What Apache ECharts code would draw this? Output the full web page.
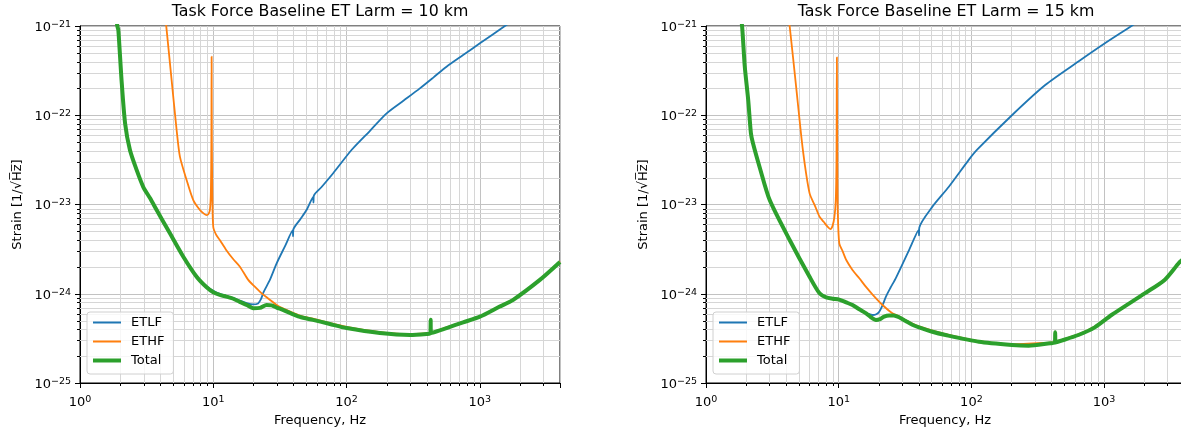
<!DOCTYPE html>
<html><head><meta charset="utf-8">
<script src="https://cdn.jsdelivr.net/npm/echarts@6/dist/echarts.min.js"></script>
<style>html,body{margin:0;padding:0;overflow:hidden;background:#fff}#c{width:1187px;height:435px}</style>
</head><body><div id="c"></div><script>
// ---------- data ----------
const titles = ['Task Force Baseline ET Larm = 10 km', 'Task Force Baseline ET Larm = 15 km'];
const seriesNames = ['ETLF', 'ETHF', 'Total'];

// 10 km
const freqLF10 = [1.85, 1.905, 1.94, 2.05, 2.18, 2.37, 2.66, 2.98, 3.35, 3.76, 4.73, 5.96, 7.5, 8.92, 10, 11.2, 12.5, 14, 15.8, 17.8, 19.9, 21.7, 22.8, 23.9, 26.6, 29.9, 34.5, 39.5, 39.7, 39.9, 45, 50.1, 56.2, 56.5, 56.8, 65, 79.4, 109, 150, 200, 270, 355, 450, 563, 750, 1002, 1543, 2000];
const strainLF10 = [1.5e-21, 1.0e-21, 9.0e-22, 2.48e-22, 8.1e-23, 4.08e-23, 2.44e-23, 1.58e-23, 1.18e-23, 8.67e-24, 4.75e-24, 2.6e-24, 1.56e-24, 1.21e-24, 1.08e-24, 9.95e-25, 9.5e-25, 9.0e-25, 8.4e-25, 7.87e-25, 7.6e-25, 7.8e-25, 8.7e-25, 1.05e-24, 1.43e-24, 2.19e-24, 3.4e-24, 5.15e-24, 4.4e-24, 5.25e-24, 6.84e-24, 8.67e-24, 1.22e-23, 1.05e-23, 1.25e-23, 1.57e-23, 2.24e-23, 4.08e-23, 6.7e-23, 1.05e-22, 1.47e-22, 2.0e-22, 2.66e-22, 3.5e-22, 4.73e-22, 6.4e-22, 1.0e-21, 1.3e-21];

const freqHF10 = [4.2, 4.47, 4.87, 5.31, 5.62, 6.31, 7.08, 7.94, 8.5, 8.92, 9.2, 9.44, 9.6, 9.68, 9.72, 9.76, 9.85, 10.0, 10.5, 11.2, 12.5, 14.1, 15.85, 18.3, 20.5, 23.1, 26, 29.9, 33.3, 44.7, 56, 75, 100, 178, 299, 399, 426, 428, 430, 563, 750, 1002, 1400, 1770, 2825, 4000];
const strainHF10 = [2.2e-21, 9.0e-22, 2.48e-22, 6.84e-23, 3.44e-23, 1.88e-23, 1.12e-23, 8.67e-24, 7.9e-24, 7.6e-24, 7.8e-24, 8.7e-24, 1.4e-23, 5e-23, 4.53e-22, 5e-23, 1.2e-23, 5.6e-24, 4.6e-24, 4.0e-24, 3.1e-24, 2.45e-24, 2.01e-24, 1.43e-24, 1.2e-24, 1.01e-24, 8.8e-25, 7.48e-25, 6.85e-25, 5.7e-25, 5.25e-25, 4.7e-25, 4.25e-25, 3.72e-25, 3.53e-25, 3.6e-25, 3.65e-25, 5.15e-25, 3.67e-25, 4.2e-25, 4.85e-25, 5.6e-25, 7.2e-25, 8.6e-25, 1.44e-24, 2.3e-24];

const freqTot10 = [1.85, 1.905, 1.94, 2.05, 2.18, 2.37, 2.66, 2.98, 3.35, 3.76, 4.73, 5.96, 7.5, 8.92, 10, 11.2, 12.5, 14, 15.8, 17.8, 19.9, 22.4, 25.1, 27.5, 29.9, 33.3, 44.7, 56, 75, 100, 178, 299, 399, 426, 428, 430, 563, 750, 1002, 1400, 1770, 2825, 4000];
const strainTot10 = [1.5e-21, 1.0e-21, 9.0e-22, 2.48e-22, 8.1e-23, 4.08e-23, 2.44e-23, 1.58e-23, 1.18e-23, 8.67e-24, 4.75e-24, 2.6e-24, 1.55e-24, 1.18e-24, 1.04e-24, 9.7e-25, 9.3e-25, 8.85e-25, 8.1e-25, 7.5e-25, 6.9e-25, 6.95e-25, 7.5e-25, 7.4e-25, 7.0e-25, 6.6e-25, 5.5e-25, 5.1e-25, 4.58e-25, 4.13e-25, 3.63e-25, 3.45e-25, 3.54e-25, 3.6e-25, 5.1e-25, 3.62e-25, 4.13e-25, 4.78e-25, 5.53e-25, 7.14e-25, 8.5e-25, 1.43e-24, 2.27e-24];

// 15 km
const freqLF15 = [1.8, 1.87, 1.96, 2.08, 2.18, 2.26, 2.54, 3.02, 4.27, 6.03, 7.17, 8.04, 9.0, 10.1, 11.4, 12.7, 15.1, 16.5, 18.0, 19.2, 20.2, 21.3, 22.7, 24.5, 27.0, 33.9, 40.1, 40.3, 40.5, 50.7, 67.6, 95.5, 110, 202, 360, 640, 1014, 1607, 2000];
const strainLF15 = [1.5e-21, 1.0e-21, 3.5e-22, 1.48e-22, 6.3e-23, 4.85e-23, 2.6e-23, 1.12e-23, 4.0e-24, 1.55e-24, 1.02e-24, 9.2e-25, 8.9e-25, 8.7e-25, 8.0e-25, 7.6e-25, 6.3e-25, 6.0e-25, 5.78e-25, 5.9e-25, 6.3e-25, 7.3e-25, 9.3e-25, 1.16e-24, 1.51e-24, 3.09e-24, 5.2e-24, 4.5e-24, 5.5e-24, 9.4e-24, 1.58e-23, 3.16e-23, 4.08e-23, 1.0e-22, 2.18e-22, 4.0e-22, 6.4e-22, 1.0e-21, 1.25e-21];

const freqHF15 = [4.1, 4.27, 4.8, 5.37, 6.03, 6.6, 7.17, 7.7, 8.27, 8.66, 9.0, 9.29, 9.5, 9.62, 9.69, 9.76, 9.85, 10.1, 10.7, 11.4, 12.7, 14.3, 16, 18.0, 21.4, 25.4, 28.5, 32, 40.3, 63.9, 114, 202, 392, 426, 428, 430, 640, 850, 1137, 2023, 2858, 4000];
const strainHF15 = [1.6e-21, 1.0e-21, 1.95e-22, 4.1e-23, 1.34e-23, 9.8e-24, 7.3e-24, 6.4e-24, 5.6e-24, 5.3e-24, 5.8e-24, 7.3e-24, 1.1e-23, 3e-23, 4.46e-22, 3e-23, 8e-24, 3.67e-24, 3.0e-24, 2.39e-24, 1.85e-24, 1.49e-24, 1.2e-24, 9.8e-25, 7.48e-25, 6.04e-25, 5.6e-25, 5.05e-25, 4.3e-25, 3.52e-25, 2.95e-25, 2.72e-25, 2.84e-25, 2.88e-25, 3.75e-25, 2.9e-25, 3.5e-25, 4.28e-25, 5.85e-25, 1.02e-24, 1.45e-24, 2.52e-24];

const freqTot15 = [1.8, 1.87, 1.96, 2.08, 2.18, 2.26, 2.54, 3.02, 4.27, 6.03, 7.17, 8.04, 9.0, 10.1, 11.4, 12.7, 14.3, 16.1, 17.5, 19.1, 20.5, 22, 24, 26, 28.5, 32, 35.9, 40.3, 50, 63.9, 114, 202, 270, 392, 426, 428, 430, 640, 850, 1137, 2023, 2858, 3658, 4000];
const strainTot15 = [1.5e-21, 1.0e-21, 3.5e-22, 1.48e-22, 6.3e-23, 4.85e-23, 2.6e-23, 1.12e-23, 4.0e-24, 1.55e-24, 1.01e-24, 9.1e-25, 8.8e-25, 8.6e-25, 8.0e-25, 7.48e-25, 6.7e-25, 6.04e-25, 5.45e-25, 5.08e-25, 5.2e-25, 5.55e-25, 5.7e-25, 5.7e-25, 5.45e-25, 4.95e-25, 4.5e-25, 4.2e-25, 3.78e-25, 3.45e-25, 2.9e-25, 2.67e-25, 2.62e-25, 2.79e-25, 2.83e-25, 3.7e-25, 2.85e-25, 3.45e-25, 4.2e-25, 5.78e-25, 1.01e-24, 1.43e-24, 2.21e-24, 2.5e-24];

// axis ranges and tick positions
const freqRange = [1, 4000];
const strainDecades = [-25, -21];   // strain axis shown in powers of ten (log10 of strain)
const minorFreqTicks = [2, 3, 4, 5, 6, 7, 8, 9, 20, 30, 40, 50, 60, 70, 80, 90, 200, 300, 400, 500, 600, 700, 800, 900, 2000, 3000];
const minorStrainTicks = [2e-25, 3e-25, 4e-25, 5e-25, 6e-25, 7e-25, 8e-25, 9e-25, 2e-24, 3e-24, 4e-24, 5e-24, 6e-24, 7e-24, 8e-24, 9e-24, 2e-23, 3e-23, 4e-23, 5e-23, 6e-23, 7e-23, 8e-23, 9e-23, 2e-22, 3e-22, 4e-22, 5e-22, 6e-22, 7e-22, 8e-22, 9e-22];

// ---------- chart ----------
const FONT = 'DejaVu Sans';
const C_LF = '#1f77b4', C_HF = '#ff7f0e', C_TOT = '#2ca02c';
const GRID_MAJOR = '#c2c2c2', GRID_MINOR = '#d6d6d6';
const grids = [
  {left: 80, top: 26, width: 480, height: 357, show: true, borderColor: '#000', borderWidth: 1},
  {left: 706, top: 26, width: 480, height: 357, show: true, borderColor: '#000', borderWidth: 1}
];

function supLabel(exp) {
  return '{b|10}{s|' + (exp < 0 ? '\u2212' + (-exp) : String(exp)) + '}';
}
function xLabel(v) {
  if (!(v > 0)) return '';
  const e = Math.log10(v), r = Math.round(e);
  if (Math.abs(e - r) > 1e-6) return '';
  return supLabel(r);
}
function yLabel(v) {
  const r = Math.round(v);
  if (Math.abs(v - r) > 1e-6) return '';
  return supLabel(r);
}
const rich = {
  b: {fontSize: 13, lineHeight: 13, padding: [3, 0, 0, 0], fontFamily: FONT, color: '#000'},
  s: {fontSize: 9.5, lineHeight: 10, verticalAlign: 'top', fontFamily: FONT, color: '#000'}
};

function xAxis(gi) {
  return {
    type: 'log', logBase: 10, gridIndex: gi, min: freqRange[0], max: freqRange[1],
    name: 'Frequency, Hz', nameLocation: 'middle', nameGap: 30,
    nameTextStyle: {fontSize: 13, fontFamily: FONT, color: '#000'},
    axisLine: {show: true, onZero: false, lineStyle: {color: '#000', width: 1}},
    axisTick: {show: true, length: 5, interval: 0, lineStyle: {color: '#000', width: 1}},
    axisLabel: {formatter: xLabel, rich: rich, margin: 12, interval: 0, showMinLabel: true, showMaxLabel: true},
    splitLine: {show: true, lineStyle: {color: GRID_MAJOR, width: 1}}
  };
}
function yAxis(gi) {
  return {
    type: 'value', gridIndex: gi, min: strainDecades[0], max: strainDecades[1], interval: 1,
    name: 'Strain [1/\u221AH\u0305z\u0305]', nameLocation: 'middle', nameGap: 56, nameRotate: 90,
    nameTextStyle: {fontSize: 13, fontFamily: FONT, color: '#000'},
    axisLine: {show: true, onZero: false, lineStyle: {color: '#000', width: 1}},
    axisTick: {show: true, length: 5, lineStyle: {color: '#000', width: 1}},
    axisLabel: {formatter: yLabel, rich: rich, margin: 9, showMinLabel: true, showMaxLabel: true},
    splitLine: {show: true, lineStyle: {color: GRID_MAJOR, width: 1}}
  };
}

function minorData() {
  const d = [];
  minorFreqTicks.forEach(v => d.push([v, -23, 0]));
  minorStrainTicks.forEach(v => d.push([10, Math.log10(v), 1]));
  return d;
}
function minorRender(params, api) {
  const cs = params.coordSys;
  const kind = api.value(2);
  if (kind === 0) {
    const x = Math.round(api.coord([api.value(0), -23])[0]) + 0.5;
    const yb = cs.y + cs.height;
    return {type: 'group', children: [
      {type: 'line', shape: {x1: x, y1: cs.y, x2: x, y2: yb}, style: {stroke: GRID_MINOR, lineWidth: 1}},
      {type: 'line', shape: {x1: x, y1: yb, x2: x, y2: yb + 3}, style: {stroke: '#000', lineWidth: 1}}
    ]};
  }
  const y = Math.round(api.coord([10, api.value(1)])[1]) + 0.5;
  return {type: 'group', children: [
    {type: 'line', shape: {x1: cs.x, y1: y, x2: cs.x + cs.width, y2: y}, style: {stroke: GRID_MINOR, lineWidth: 1}},
    {type: 'line', shape: {x1: cs.x - 3, y1: y, x2: cs.x, y2: y}, style: {stroke: '#000', lineWidth: 1}}
  ]};
}

function line(name, f, s, color, width, gi, z) {
  return {
    type: 'line', name: name, xAxisIndex: gi, yAxisIndex: gi,
    data: f.map((x, i) => [x, Math.log10(s[i])]),
    symbol: 'none', showSymbol: false, smooth: 0.25, clip: true,
    color: color, itemStyle: {color: color},
    lineStyle: {color: color, width: width, join: 'round'},
    z: z, silent: true, animation: false
  };
}

const sets = [
  [freqLF10, strainLF10, freqHF10, strainHF10, freqTot10, strainTot10],
  [freqLF15, strainLF15, freqHF15, strainHF15, freqTot15, strainTot15]
];
const series = [];
sets.forEach((s, gi) => {
  series.push({type: 'custom', name: 'minorgrid' + gi, xAxisIndex: gi, yAxisIndex: gi,
    data: minorData(), renderItem: minorRender, clip: false, silent: true, z: 1, animation: false,
    encode: {x: 0, y: 1}});
  series.push(line(seriesNames[0], s[0], s[1], C_LF, 1.8, gi, 3));
  series.push(line(seriesNames[1], s[2], s[3], C_HF, 1.8, gi, 4));
  series.push(line(seriesNames[2], s[4], s[5], C_TOT, 4, gi, 5));
});

function legend(left) {
  return {
    show: true, left: left, top: 312, orient: 'vertical',
    data: [
      {name: seriesNames[0], lineStyle: {width: 2}},
      {name: seriesNames[1], lineStyle: {width: 2}},
      {name: seriesNames[2], lineStyle: {width: 4}}
    ],
    itemWidth: 28, itemHeight: 14, itemGap: 6, padding: [4, 9, 7, 4],
    itemStyle: {opacity: 0},
    borderColor: '#d0d0d0', borderWidth: 1, borderRadius: 3, backgroundColor: 'rgba(255,255,255,0.8)',
    textStyle: {fontSize: 13, fontFamily: FONT, color: '#000', padding: [0, 0, 0, 5]},
    selectedMode: false
  };
}

const chart = echarts.init(document.getElementById('c'), null, {renderer: 'canvas', width: 1187, height: 435});
chart.setOption({
  animation: false,
  backgroundColor: '#fff',
  textStyle: {fontFamily: FONT},
  title: [
    {text: titles[0], left: 320, top: 4, textAlign: 'center', padding: 0, textStyle: {fontSize: 15.8, fontWeight: 'normal', fontFamily: FONT, color: '#000'}},
    {text: titles[1], left: 946, top: 4, textAlign: 'center', padding: 0, textStyle: {fontSize: 15.8, fontWeight: 'normal', fontFamily: FONT, color: '#000'}}
  ],
  legend: [legend(87), legend(713)],
  grid: grids,
  xAxis: [xAxis(0), xAxis(1)],
  yAxis: [yAxis(0), yAxis(1)],
  series: series
});
</script></body></html>
